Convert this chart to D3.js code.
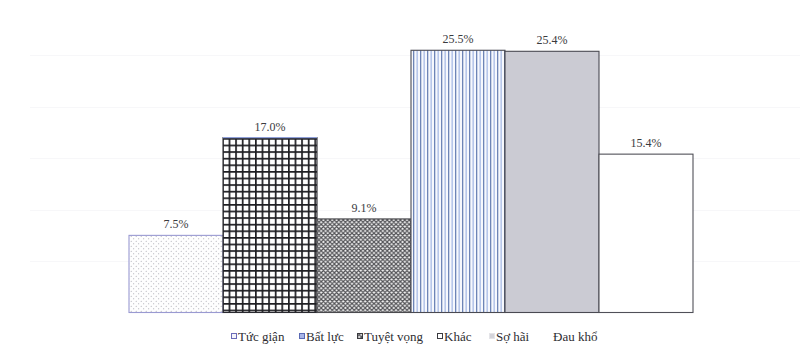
<!DOCTYPE html>
<html>
<head>
<meta charset="utf-8">
<script src="https://cdn.jsdelivr.net/npm/d3@7/dist/d3.min.js"></script>
<style>
  html, body { margin: 0; padding: 0; background: #ffffff; }
  svg { display: block; }
  .serif { font-family: "Liberation Serif", "DejaVu Serif", "Times New Roman", serif; }
</style>
</head>
<body>
<svg id="chart" width="811" height="352"></svg>
<script>
// Emotional reactions, share of respondents (%)
const categories = ["Tức giận", "Bất lực", "Tuyệt vọng", "Khác", "Sợ hãi", "Đau khổ"];
const values = [7.5, 17.0, 9.1, 25.5, 25.4, 15.4];
const valueLabels = ["7.5%", "17.0%", "9.1%", "25.5%", "25.4%", "15.4%"];
const gridTicks = [5, 10, 15, 20, 25];

const W = 811, H = 352;
const margin = { left: 129, right: 118, top: 4, bottom: 39.5 };

const svg = d3.select("#chart");
const defs = svg.append("defs");

// --- fill patterns -------------------------------------------------------
// fine dots
const pDots = defs.append("pattern").attr("id", "p-dots")
  .attr("patternUnits", "userSpaceOnUse").attr("width", 5).attr("height", 5);
pDots.append("rect").attr("width", 5).attr("height", 5).attr("fill", "#fefefe");
pDots.append("circle").attr("cx", 1.2).attr("cy", 1.2).attr("r", 0.5).attr("fill", "#9a9aa4");
pDots.append("circle").attr("cx", 3.7).attr("cy", 3.7).attr("r", 0.5).attr("fill", "#9a9aa4");

// square grid
const gs = 6.6;
const pGrid = defs.append("pattern").attr("id", "p-grid")
  .attr("patternUnits", "userSpaceOnUse").attr("width", gs).attr("height", gs)
  .attr("x", 222).attr("y", 138);
pGrid.append("rect").attr("width", gs).attr("height", gs).attr("fill", "#ffffff");
pGrid.append("rect").attr("x", 0).attr("y", 0).attr("width", 1.7).attr("height", gs).attr("fill", "#1e1e22");
pGrid.append("rect").attr("x", 0).attr("y", 0).attr("width", gs).attr("height", 1.7).attr("fill", "#1e1e22");

// dense diagonal crosshatch
const pCross = defs.append("pattern").attr("id", "p-cross")
  .attr("patternUnits", "userSpaceOnUse").attr("width", 4.4).attr("height", 4.4);
pCross.append("rect").attr("width", 4.4).attr("height", 4.4).attr("fill", "#f6f6f6");
pCross.append("path").attr("d", "M0,0L4.4,4.4M4.4,0L0,4.4M-1,3.4L1,5.4M3.4,-1L5.4,1M-1,1L1,-1M3.4,5.4L5.4,3.4")
  .attr("stroke", "#525256").attr("stroke-width", 1.2);

// vertical stripes
const pStripe = defs.append("pattern").attr("id", "p-stripe")
  .attr("patternUnits", "userSpaceOnUse").attr("width", 7).attr("height", 10);
pStripe.append("rect").attr("width", 7).attr("height", 10).attr("fill", "#f6f8fd");
pStripe.append("rect").attr("x", 0).attr("width", 1.3).attr("height", 10).attr("fill", "#6d84b6");
pStripe.append("rect").attr("x", 3.5).attr("width", 1.3).attr("height", 10).attr("fill", "#a8bbe6");

const fills = {
  "Tức giận": { fill: "url(#p-dots)", stroke: "#9a9ad2" },
  "Bất lực": { fill: "url(#p-grid)", stroke: "#2a2a30" },
  "Tuyệt vọng": { fill: "url(#p-cross)", stroke: "#4a4a4e" },
  "Khác": { fill: "url(#p-stripe)", stroke: "#4a4a52" },
  "Sợ hãi": { fill: "#cbcbd3", stroke: "#4a4a52" },
  "Đau khổ": { fill: "#ffffff", stroke: "#505058" }
};

// --- scales ---------------------------------------------------------------
const x = d3.scaleBand().domain(categories)
  .range([margin.left, W - margin.right]).paddingInner(0).paddingOuter(0);
const y = d3.scaleLinear().domain([0, 30]).range([H - margin.bottom, margin.top]);

// faint horizontal grid
svg.append("g").selectAll("line").data(gridTicks).join("line")
  .attr("x1", 30).attr("x2", 800)
  .attr("y1", d => Math.round(y(d)) + 0.5).attr("y2", d => Math.round(y(d)) + 0.5)
  .attr("stroke", "#f7f7f9").attr("stroke-width", 1);

// --- bars -----------------------------------------------------------------
const bars = svg.append("g");
bars.selectAll("rect").data(categories).join("rect")
  .attr("x", d => x(d))
  .attr("y", (d, i) => y(values[i]))
  .attr("width", x.bandwidth())
  .attr("height", (d, i) => y(0) - y(values[i]))
  .attr("fill", d => fills[d].fill)
  .attr("stroke", d => fills[d].stroke)
  .attr("stroke-width", 1.1);

// the grid bar carries a light blue top edge
bars.append("line")
  .attr("x1", x("Bất lực")).attr("x2", x("Bất lực") + x.bandwidth())
  .attr("y1", y(values[1])).attr("y2", y(values[1]))
  .attr("stroke", "#8f9fd8").attr("stroke-width", 1.3);

// value labels
svg.append("g").attr("class", "serif").selectAll("text").data(categories).join("text")
  .attr("x", d => x(d) + x.bandwidth() / 2)
  .attr("y", (d, i) => y(values[i]) - 7)
  .attr("text-anchor", "middle")
  .style("font-size", "12px")
  .attr("fill", "#3a3a3e")
  .text((d, i) => valueLabels[i]);

// --- legend ---------------------------------------------------------------
const legendSwatches = {
  "Tức giận": { fill: "#f4f4fb", stroke: "#6a6ab8" },
  "Bất lực": { fill: "#a9b6e8", stroke: "#5a6ab4" },
  "Tuyệt vọng": { fill: "url(#p-cross)", stroke: "#3a3a3e" },
  "Khác": { fill: "#ffffff", stroke: "#3a3a40" },
  "Sợ hãi": { fill: "#d4d4da", stroke: "#e4e4e8" },
  "Đau khổ": { fill: "none", stroke: "none" }
};
const legendX = [231, 299, 357, 437, 489, 546];
const ly = 337;
const legend = svg.append("g").attr("class", "serif")
  .style("font-size", "13px").attr("fill", "#2e2e32");
const items = legend.selectAll("g").data(categories).join("g")
  .attr("transform", (d, i) => `translate(${legendX[i]},${ly})`);
items.append("rect")
  .attr("x", 0.5).attr("y", -3.5).attr("width", 5).attr("height", 5)
  .attr("fill", d => legendSwatches[d].fill)
  .attr("stroke", d => legendSwatches[d].stroke).attr("stroke-width", 1);
items.append("text")
  .attr("x", 7).attr("y", 4)
  .text(d => d);
</script>
</body>
</html>
